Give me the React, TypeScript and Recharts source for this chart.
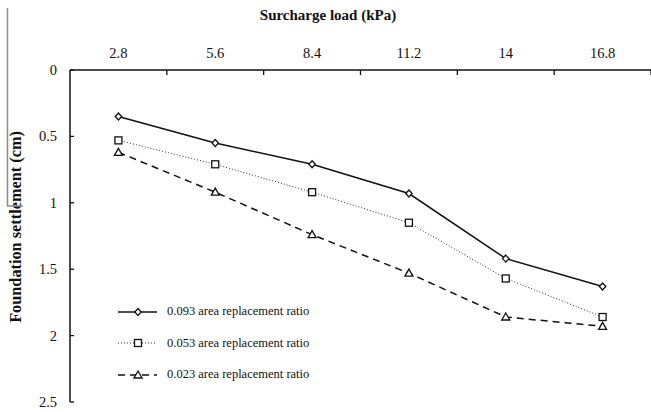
import { Legend, Line, LineChart, XAxis, YAxis } from 'recharts'

const loads = ['2.8', '5.6', '8.4', '11.2', '14', '16.8']
const ratio093 = [0.35, 0.55, 0.71, 0.93, 1.42, 1.63]
const ratio053 = [0.53, 0.71, 0.92, 1.15, 1.57, 1.86]
const ratio023 = [0.62, 0.92, 1.24, 1.53, 1.86, 1.93]
const settlementTicks = [0, 0.5, 1, 1.5, 2, 2.5]

const data = loads.map((load, i) => ({
  load,
  r093: ratio093[i],
  r053: ratio053[i],
  r023: ratio023[i],
}))

type Shape = 'diamond' | 'square' | 'triangle'

const SERIES: {
  key: string
  name: string
  shape: Shape
  stroke: string
  width: number
  dash?: string
}[] = [
  { key: 'r093', name: '0.093 area replacement ratio', shape: 'diamond', stroke: '#111', width: 1.5 },
  { key: 'r053', name: '0.053 area replacement ratio', shape: 'square', stroke: '#333', width: 1, dash: '1 2' },
  { key: 'r023', name: '0.023 area replacement ratio', shape: 'triangle', stroke: '#111', width: 1.5, dash: '7 5' },
]

const FONT = '"Liberation Serif", "Times New Roman", serif'

function Marker({ shape, cx, cy }: { shape: Shape; cx: number; cy: number }) {
  const common = { fill: '#fff', stroke: '#111', strokeWidth: 1.3 }
  if (shape === 'diamond') {
    return (
      <polygon
        {...common}
        points={`${cx},${cy - 3.5} ${cx + 3.2},${cy} ${cx},${cy + 3.5} ${cx - 3.2},${cy}`}
      />
    )
  }
  if (shape === 'square') {
    return <rect {...common} x={cx - 3.5} y={cy - 3.5} width={7} height={7} />
  }
  return (
    <polygon {...common} points={`${cx},${cy - 4} ${cx + 4},${cy + 3} ${cx - 4},${cy + 3}`} />
  )
}

const makeDot = (shape: Shape) => (props: any) => {
  const { cx, cy, index } = props
  if (cx == null || cy == null) return <g key={index} />
  return <Marker key={index} shape={shape} cx={cx} cy={cy} />
}

// Category labels sit in band centres; tick marks go on band boundaries (Excel style).
function TopTick(props: any) {
  const { x, y, payload, index, width, visibleTicksCount } = props
  const band = width / visibleTicksCount
  const axisY = y + 12
  return (
    <g>
      <text x={x} y={y} textAnchor="middle" fontFamily={FONT} fontSize={14.5} fill="#111">
        {payload.value}
      </text>
      {index < visibleTicksCount && (
        <line x1={x + band / 2} x2={x + band / 2} y1={axisY} y2={axisY + 5} stroke="#111" strokeWidth={1.3} />
      )}
    </g>
  )
}

function LeftTick(props: any) {
  const { x, y, payload } = props
  const axisX = x + 13
  return (
    <g>
      <text x={x} y={y} dy="0.34em" textAnchor="end" fontFamily={FONT} fontSize={14.5} fill="#111">
        {payload.value}
      </text>
      <line x1={axisX} x2={axisX + 4} y1={y} y2={y} stroke="#111" strokeWidth={1.3} />
    </g>
  )
}

function LegendBox() {
  return (
    <div style={{ fontFamily: FONT, fontSize: 12.5, color: '#111' }}>
      {SERIES.map((s) => (
        <div key={s.key} style={{ display: 'flex', alignItems: 'center', height: 31.5 }}>
          <svg width={46} height={12} style={{ display: 'block' }}>
            <line
              x1={2}
              x2={41}
              y1={6}
              y2={6}
              stroke={s.stroke}
              strokeWidth={s.width}
              strokeDasharray={s.dash}
            />
            <Marker shape={s.shape} cx={22} cy={6} />
          </svg>
          <span style={{ marginLeft: 5 }}>{s.name}</span>
        </div>
      ))}
    </div>
  )
}

export default function App() {
  return (
    <div style={{ position: 'relative', width: 651, height: 412, background: '#fff' }}>
      <style>{'body{margin:0;}'}</style>
      <LineChart
        width={651}
        height={412}
        data={data}
        margin={{ top: 0, right: 0, bottom: 10, left: 0 }}
        style={{ fontFamily: FONT }}
      >
        <XAxis
          dataKey="load"
          orientation="top"
          scale="band"
          height={70}
          tickLine={false}
          tickSize={0}
          tickMargin={12}
          tick={<TopTick />}
          axisLine={{ stroke: '#111', strokeWidth: 1.5 }}
          interval={0}
          label={{
            content: () => (
              <text
                x={328}
                y={20}
                textAnchor="middle"
                fontFamily={FONT}
                fontSize={15}
                fontWeight="bold"
                fill="#111"
              >
                Surcharge load (kPa)
              </text>
            ),
          }}
        />
        <YAxis
          type="number"
          domain={[0, 2.5]}
          ticks={settlementTicks}
          reversed
          width={70}
          tickLine={false}
          tickSize={0}
          tickMargin={13}
          tick={<LeftTick />}
          axisLine={{ stroke: '#111', strokeWidth: 1.5 }}
          interval={0}
          label={{
            content: () => (
              <text
                x={15}
                y={227}
                transform="rotate(-90 15 227)"
                textAnchor="middle"
                dominantBaseline="central"
                fontFamily={FONT}
                fontSize={16.3}
                fontWeight="bold"
                fill="#111"
              >
                Foundation settlement (cm)
              </text>
            ),
          }}
        />
        <Legend
          layout="horizontal"
          verticalAlign="middle"
          align="center"
          content={() => <LegendBox />}
          wrapperStyle={{ left: 116, top: 296, width: 240, height: 'auto' }}
        />
        {SERIES.map((s) => (
          <Line
            key={s.key}
            dataKey={s.key}
            name={s.name}
            type="linear"
            stroke={s.stroke}
            strokeWidth={s.width}
            strokeDasharray={s.dash}
            dot={makeDot(s.shape)}
            activeDot={false}
            isAnimationActive={false}
          />
        ))}
      </LineChart>
      {/* scan artefact at the left edge of the figure */}
      <svg
        width={651}
        height={412}
        style={{ position: 'absolute', left: 0, top: 0, pointerEvents: 'none' }}
      >
        <line x1={7.5} x2={7.5} y1={8} y2={206} stroke="#8a8a8a" strokeWidth={1.5} />
        <line x1={7} x2={23} y1={206} y2={206} stroke="#8a8a8a" strokeWidth={1.5} />
      </svg>
    </div>
  )
}
